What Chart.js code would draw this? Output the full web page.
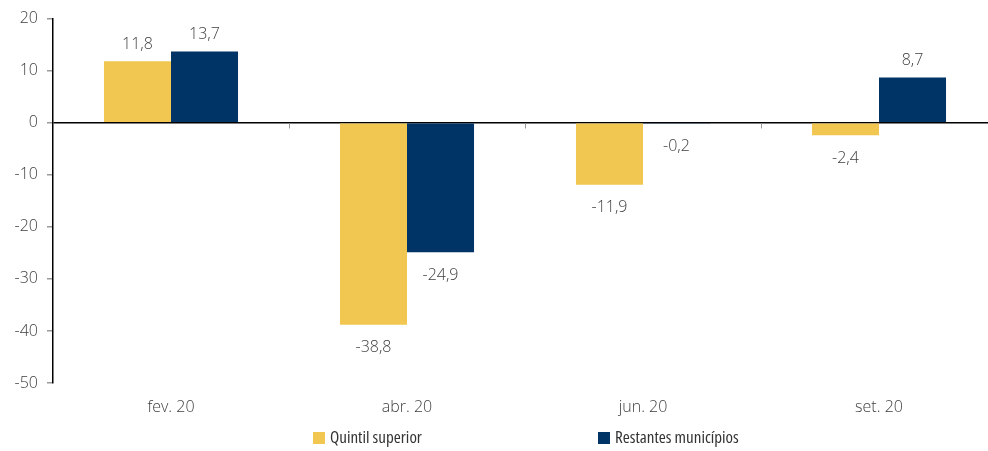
<!DOCTYPE html>
<html>
<head>
<meta charset="utf-8">
<script src="https://cdn.jsdelivr.net/npm/chart.js@4/dist/chart.umd.min.js"></script>
<style>
  html, body { margin: 0; padding: 0; background: #fff; overflow: hidden; }
  #wrap { position: relative; width: 1000px; height: 451px; }
</style>
</head>
<body>
<div id="wrap"><canvas id="c"></canvas></div>
<script>
// Categories and series
const categories = ['fev. 20', 'abr. 20', 'jun. 20', 'set. 20'];
const quintilSuperior = [11.8, -38.8, -11.9, -2.4];
const restantesMunicipios = [13.7, -24.9, -0.2, 8.7];
const seriesNames = ['Quintil superior', 'Restantes municípios'];

const YELLOW = '#F2C751';
const NAVY = '#003366';
const TEXT = '#404040';
const FONT = '"Open Sans", "Noto Sans", sans-serif';

const fmt = v => v.toFixed(1).replace('.', ',');

// Value labels above positive bars and below negative ones
const valueLabels = {
  id: 'valueLabels',
  afterDatasetsDraw(chart) {
    const ctx = chart.ctx;
    ctx.save();
    ctx.font = '300 16px ' + FONT;
    ctx.fillStyle = TEXT;
    ctx.textAlign = 'center';
    ctx.textBaseline = 'middle';
    chart.data.datasets.forEach((ds, di) => {
      const meta = chart.getDatasetMeta(di);
      meta.data.forEach((bar, i) => {
        const v = ds.data[i];
        const y = v >= 0 ? bar.y - 17 : bar.y + 23;
        ctx.fillText(fmt(v), bar.x, y);
      });
    });
    ctx.restore();
  }
};

// Small category separators hanging under the zero line
const zeroTicks = {
  id: 'zeroTicks',
  afterDatasetsDraw(chart) {
    const xs = chart.scales.x, ys = chart.scales.y;
    const y0 = Math.round(ys.getPixelForValue(0)) + 0.5;
    const ctx = chart.ctx;
    ctx.save();
    ctx.strokeStyle = '#9a9a9a';
    ctx.lineWidth = 1;
    for (let i = 1; i < categories.length; i++) {
      const x = Math.round((xs.getPixelForValue(i - 1) + xs.getPixelForValue(i)) / 2) + 0.5;
      ctx.beginPath();
      ctx.moveTo(x, y0);
      ctx.lineTo(x, y0 + 5);
      ctx.stroke();
    }
    ctx.restore();
  }
};

// Legend under the category labels, centred on the plot area
const bottomLegend = {
  id: 'bottomLegend',
  afterDraw(chart) {
    const ctx = chart.ctx;
    const area = chart.chartArea;
    const cx = (area.left + area.right) / 2;
    const offsets = [-212, 73];
    const y = 438;
    ctx.save();
    ctx.font = '17px ' + FONT;
    try { ctx.fontStretch = 'condensed'; } catch (e) {}
    ctx.textBaseline = 'middle';
    ctx.textAlign = 'left';
    chart.data.datasets.forEach((ds, i) => {
      const bx = Math.round(cx + offsets[i]);
      ctx.fillStyle = ds.backgroundColor;
      ctx.fillRect(bx, y - 6, 12, 12);
      ctx.fillStyle = '#333333';
      ctx.fillText(ds.label, bx + 17, y);
    });
    ctx.restore();
  }
};

new Chart(document.getElementById('c'), {
  type: 'bar',
  data: {
    labels: categories,
    datasets: [
      { label: seriesNames[0], data: quintilSuperior, backgroundColor: YELLOW },
      { label: seriesNames[1], data: restantesMunicipios, backgroundColor: NAVY }
    ]
  },
  options: {
    responsive: true,
    maintainAspectRatio: false,
    animation: false,
    datasets: { bar: { categoryPercentage: 0.568, barPercentage: 1.0 } },
    layout: { padding: { top: 18, right: 3, bottom: 0, left: 0 } },
    plugins: { legend: { display: false }, tooltip: { enabled: false } },
    scales: {
      x: {
        grid: { display: false, drawTicks: false },
        border: { display: false },
        ticks: { color: TEXT, font: { family: FONT, size: 16, weight: 300 }, padding: 15 },
        afterFit(s) { s.height = 68; }
      },
      y: {
        min: -50,
        max: 20,
        ticks: { stepSize: 10, color: TEXT, font: { family: FONT, size: 16, weight: 300 }, padding: 9 },
        grid: {
          drawOnChartArea: true,
          drawTicks: true,
          tickLength: 6,
          tickColor: '#9a9a9a',
          color: c => (c.tick && c.tick.value === 0 ? '#000000' : 'rgba(0,0,0,0)'),
          lineWidth: 1.5
        },
        border: { display: true, color: '#000000', width: 1.5 },
        afterFit(s) { s.width = 53; }
      }
    }
  },
  plugins: [zeroTicks, valueLabels, bottomLegend]
});
</script>
</body>
</html>
